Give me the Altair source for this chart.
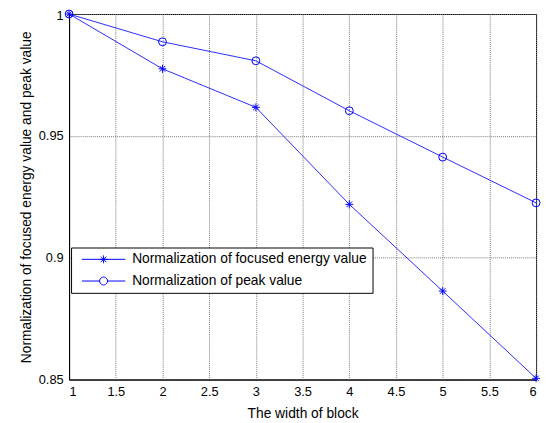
import altair as alt
import pandas as pd
import math

block_width = [1, 2, 3, 4, 5, 6]
focused_energy = [1.0, 0.9775, 0.9617, 0.9219, 0.8863, 0.8505]
peak_value = [1.0, 0.9886, 0.9808, 0.9603, 0.9413, 0.9225]
series_names = ["Normalization of focused energy value", "Normalization of peak value"]
x_ticks = [1, 1.5, 2, 2.5, 3, 3.5, 4, 4.5, 5, 5.5, 6]
y_ticks = [0.85, 0.9, 0.95, 1]

rows = []
for name, vals in zip(series_names, [focused_energy, peak_value]):
    for w, v in zip(block_width, vals):
        rows.append({"width": w, "value": v, "series": name})
df = pd.DataFrame(rows)

ASTERISK = "M-1,0L1,0M0,-1L0,1M-0.7,-0.7L0.7,0.7M-0.7,0.7L0.7,-0.7"
_pts = [(math.cos(2 * math.pi * k / 24), math.sin(2 * math.pi * k / 24)) for k in range(25)]
CIRCLE_POLY = "M" + "L".join(f"{px:.3f},{py:.3f}" for px, py in _pts)
LEG_AST = "M-5.5,0L5.5,0" + ASTERISK
LEG_CIRC = "M-5.5,0L-1,0M1,0L5.5,0" + CIRCLE_POLY

FONT = "Liberation Sans"

x = alt.X("width:Q", scale=alt.Scale(domain=[1, 6], nice=False, zero=False),
          axis=alt.Axis(values=x_ticks, format="~g", title="The width of block",
                        ticks=False, labelPadding=6, titlePadding=9))
y = alt.Y("value:Q", scale=alt.Scale(domain=[0.85, 1], nice=False, zero=False),
          axis=alt.Axis(values=y_ticks, format="~g",
                        title="Normalization of focused energy value and peak value",
                        ticks=False, labelPadding=6, titlePadding=5,
                        labelOffset={"condition": {"test": "datum.value === 1", "value": 2}, "value": 0}))

lines = alt.Chart(df).mark_line(color="#2b2bff", strokeWidth=1).encode(
    x=x, y=y, detail="series:N")

points = alt.Chart(df).mark_point(filled=False, color="blue", size=64, strokeWidth=1, opacity=1).encode(
    x=x, y=y,
    shape=alt.Shape("series:N",
                    scale=alt.Scale(domain=series_names, range=[ASTERISK, "circle"]),
                    legend=None))

legend_layer = alt.Chart(df).mark_point(filled=False, color="blue", size=64, strokeWidth=1, opacity=0).encode(
    x=x, y=y,
    shape=alt.Shape("series:N",
                    scale=alt.Scale(domain=series_names, range=[LEG_AST, LEG_CIRC]),
                    legend=alt.Legend(title=None, orient="none", legendX=2, legendY=237,
                                      fillColor="white", strokeColor="black", padding=5,
                                      symbolSize=64, symbolStrokeColor="blue",
                                      symbolStrokeWidth=1, symbolFillColor="transparent",
                                      symbolOpacity=1,
                                      labelFont=FONT, labelFontSize=14, labelColor="black",
                                      labelOffset=22, symbolOffset=21, rowPadding=8,
                                      labelLimit=400)))

chart = alt.layer(lines, points, legend_layer).resolve_scale(shape="independent").properties(
    width=474, height=371,
    padding={"left": 62, "top": 3, "right": 6, "bottom": 41},
    autosize=alt.AutoSizeParams(type="none"),
    background="white",
).configure_view(stroke="black", strokeWidth=1).configure_axis(
    domainColor="black", domainWidth=1,
    grid=True, gridColor="#777777", gridDash=[1, 1], gridWidth=1, gridOpacity=1,
    labelFont=FONT, labelFontSize=13, labelColor="black",
    titleFont=FONT, titleFontSize=14, titleFontWeight="normal", titleColor="black",
)

chart.save("out.html", embed_options={"renderer": "svg", "actions": False})
